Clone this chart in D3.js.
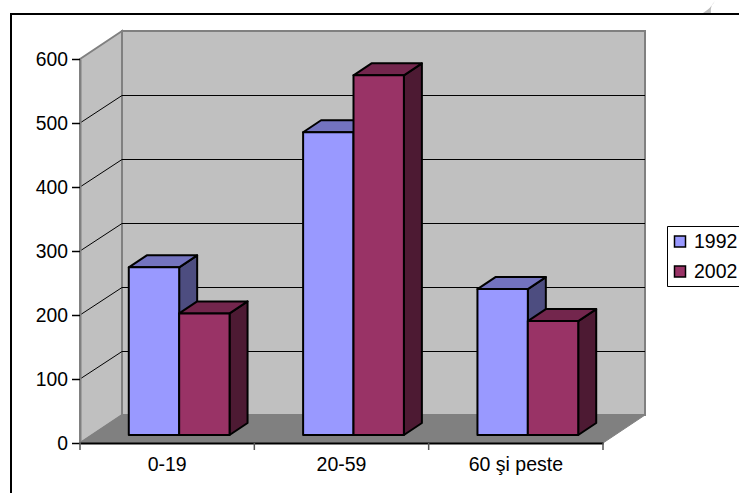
<!DOCTYPE html>
<html>
<head>
<meta charset="utf-8">
<script src="https://cdn.jsdelivr.net/npm/d3@7"></script>
<style>
  html, body { margin: 0; padding: 0; background: #fff; }
  svg { display: block; }
  text { font-family: "Liberation Sans", Arial, sans-serif; fill: #000; }
</style>
</head>
<body>
<div id="chart"></div>
<script>
// data
const categories = ["0-19", "20-59", "60 şi peste"];
const seriesNames = ["1992", "2002"];
const values1992 = [262, 473, 228];
const values2002 = [190, 562, 178];
const yTicks = [0, 100, 200, 300, 400, 500, 600];

const colors = {
    "1992": { front: "#9999ff", top: "#7373bf", side: "#4d4d80" },
    "2002": { front: "#993366", top: "#73264d", side: "#4d1a33" }
};

const width = 739, height = 493;
const svg = d3.select("#chart").append("svg")
    .attr("width", width)
    .attr("height", height);

// front plane of the 3d box, the back wall is shifted by (depthX, depthY)
const x0 = 80, x1 = 603, yBase = 443, yTop = 59;
const depthX = 42, depthY = -28;

const x = d3.scaleBand().domain(categories).range([x0, x1]);
const series = d3.scaleBand().domain(seriesNames)
    .range([0, x.bandwidth()]).paddingInner(0).paddingOuter(0.73);
const y = d3.scaleLinear().domain([0, 600]).range([yBase, yTop]);

// frame, only top and left sides show in the picture
svg.append("path")
    .attr("d", `M11,${height}V14H${width}`)
    .attr("fill", "none").attr("stroke", "#000").attr("stroke-width", 2);

// little mark above the frame
svg.append("path")
    .attr("d", "M703,13Q711,8 715,1Q710,6 711,13Z")
    .attr("fill", "#bdbdbd");

const pts = a => a.map(p => p.join(",")).join(" ");

// walls
svg.append("polygon")
    .attr("points", pts([[x0 + depthX, y(600) + depthY], [x1 + depthX, y(600) + depthY], [x1 + depthX, yBase + depthY], [x0 + depthX, yBase + depthY]]))
    .attr("fill", "#c0c0c0").attr("stroke", "#808080").attr("stroke-width", 2);
svg.append("polygon")
    .attr("points", pts([[x0, y(600)], [x0 + depthX, y(600) + depthY], [x0 + depthX, yBase + depthY], [x0, yBase]]))
    .attr("fill", "#c0c0c0").attr("stroke", "#808080").attr("stroke-width", 2);
svg.append("polygon")
    .attr("points", pts([[x0, yBase], [x1, yBase], [x1 + depthX, yBase + depthY], [x0 + depthX, yBase + depthY]]))
    .attr("fill", "#808080").attr("stroke", "#808080");

// gridlines on side and back wall
svg.append("g").selectAll("path")
    .data(yTicks.slice(1, -1))
    .join("path")
    .attr("d", d => `M${x0},${Math.round(y(d))}L${x0 + depthX},${Math.round(y(d)) + depthY + 0.5}H${x1 + depthX}`)
    .attr("fill", "none").attr("stroke", "#000").attr("stroke-width", 1);

// bars
const barDepthX = 18, barDepthY = -12;
const barOffX = 12, barOffY = -8;
const barData = [];
categories.forEach((c, i) => {
    barData.push({ cat: c, name: "1992", value: values1992[i] });
    barData.push({ cat: c, name: "2002", value: values2002[i] });
});

const bars = svg.append("g").selectAll("g")
    .data(barData)
    .join("g")
    .attr("stroke", "#000")
    .attr("stroke-width", 2)
    .attr("stroke-linejoin", "round");

const bx = d => x(d.cat) + series(d.name) + barOffX;
const bw = series.bandwidth();
const by = d => y(d.value) + barOffY;
const bb = yBase + barOffY;

bars.append("polygon")
    .attr("points", d => pts([[bx(d) + bw, by(d)], [bx(d) + bw + barDepthX, by(d) + barDepthY], [bx(d) + bw + barDepthX, bb + barDepthY], [bx(d) + bw, bb]]))
    .attr("fill", d => colors[d.name].side);
bars.append("polygon")
    .attr("points", d => pts([[bx(d), by(d)], [bx(d) + barDepthX, by(d) + barDepthY], [bx(d) + bw + barDepthX, by(d) + barDepthY], [bx(d) + bw, by(d)]]))
    .attr("fill", d => colors[d.name].top);
bars.append("rect")
    .attr("x", bx)
    .attr("y", by)
    .attr("width", bw)
    .attr("height", d => bb - by(d))
    .attr("fill", d => colors[d.name].front);

// axes
const yAxis = svg.append("g")
    .attr("transform", `translate(${x0},0)`)
    .call(d3.axisLeft(y).tickValues(yTicks).tickSize(8).tickSizeOuter(0).tickPadding(4));
yAxis.select(".domain").attr("stroke", "#808080").attr("stroke-width", 2);
yAxis.selectAll("line").attr("stroke", "#000").attr("stroke-width", 1.5);
yAxis.selectAll("text").attr("font-size", 19.3);

const xAxis = svg.append("g")
    .attr("transform", `translate(0,${yBase})`)
    .call(d3.axisBottom(x).tickSize(0).tickPadding(14));
xAxis.select(".domain").attr("stroke", "#000").attr("stroke-width", 2);
xAxis.selectAll("text").attr("font-size", 19.5);
// tick marks sit between categories
svg.append("g").selectAll("line")
    .data(d3.range(categories.length + 1))
    .join("line")
    .attr("x1", i => x0 + i * x.step())
    .attr("x2", i => x0 + i * x.step())
    .attr("y1", yBase).attr("y2", yBase + 7)
    .attr("stroke", "#555").attr("stroke-width", 1.5);

// legend
const legend = svg.append("g");
legend.append("path")
    .attr("d", `M${width},226.5H667.5V286.5H${width}`)
    .attr("fill", "#fff").attr("stroke", "#000").attr("stroke-width", 1);
const rows = legend.selectAll("g")
    .data(seriesNames)
    .join("g")
    .attr("transform", (d, i) => `translate(0,${241 + i * 30})`);
rows.append("rect")
    .attr("x", 674.5).attr("y", -5).attr("width", 11).attr("height", 11)
    .attr("fill", d => colors[d].front)
    .attr("stroke", "#000").attr("stroke-width", 1.5);
rows.append("text")
    .attr("x", 694)
    .attr("y", 7)
    .attr("font-size", 19.5)
    .text(d => d);
</script>
</body>
</html>
